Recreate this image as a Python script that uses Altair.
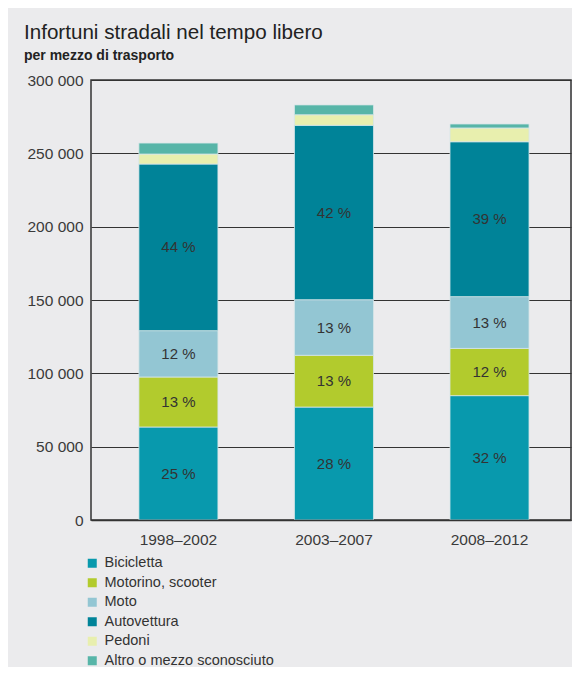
import altair as alt
import pandas as pd

periods = ["1998–2002", "2003–2007", "2008–2012"]
modes = ["Bicicletta", "Motorino, scooter", "Moto", "Autovettura", "Pedoni",
         "Altro o mezzo sconosciuto"]
colors = ["#0899AD", "#B2CB2D", "#93C6D3", "#008398", "#E8EFAE", "#57B5A8"]

bicicletta = [63400, 77000, 84800]
motorino = [34100, 35300, 32200]
moto = [31600, 37900, 35300]
autovettura = [113600, 118900, 105600]
pedoni = [6800, 7200, 9400]
altro = [7500, 6700, 2700]

lab_bicicletta = ["25 %", "28 %", "32 %"]
lab_motorino = ["13 %", "13 %", "12 %"]
lab_moto = ["12 %", "13 %", "13 %"]
lab_autovettura = ["44 %", "42 %", "39 %"]
lab_pedoni = ["", "", ""]
lab_altro = ["", "", ""]

y_ticks = [0, 50000, 100000, 150000, 200000, 250000, 300000]

series = [bicicletta, motorino, moto, autovettura, pedoni, altro]
labels = [lab_bicicletta, lab_motorino, lab_moto, lab_autovettura, lab_pedoni, lab_altro]

rows = []
for mi, (m, vals, labs) in enumerate(zip(modes, series, labels)):
    for pi, p in enumerate(periods):
        rows.append({"period": p, "mode": m, "idx": mi, "value": vals[pi], "label": labs[pi]})
df = pd.DataFrame(rows)

FONT = "Liberation Sans"

x_enc = alt.X(
    "period:N", sort=periods,
    scale=alt.Scale(paddingInner=0.492, paddingOuter=0.289, align=0.533),
    axis=alt.Axis(title=None, labelAngle=0, ticks=False, domain=True, domainColor="#333333",
                  domainWidth=1.5, zindex=1, labelPadding=12, labelFontSize=15.5,
                  labelColor="#3a3a3a", labelFont=FONT),
)

base = alt.Chart(df)

bars = base.mark_bar(stroke="#d6e6e8", strokeWidth=0.8).encode(
    x=x_enc,
    y=alt.Y(
        "value:Q", stack="zero",
        scale=alt.Scale(domain=[0, 300000], nice=False),
        axis=alt.Axis(title=None, values=y_ticks, ticks=False, domain=False,
                      labelPadding=8, labelFontSize=15.5, labelColor="#3a3a3a",
                      labelFont=FONT, gridColor="#333333", gridWidth=1.2,
                      labelExpr="replace(format(datum.value, ','), ',', ' ')"),
    ),
    color=alt.Color(
        "mode:N", sort=modes,
        scale=alt.Scale(domain=modes, range=colors),
        legend=alt.Legend(title=None, orient="none", legendX=-6, legendY=476,
                          symbolType="square", symbolSize=81, symbolStrokeWidth=0,
                          labelFontSize=14.5, labelFont=FONT, labelColor="#333333",
                          labelOffset=5, rowPadding=4.5, padding=0, labelLimit=0),
    ),
    order=alt.Order("idx:Q", sort="ascending"),
)

text = base.transform_stack(
    stack="value", as_=["y0", "y1"], groupby=["period"],
    sort=[alt.SortField("idx", order="ascending")],
).transform_calculate(
    mid="(datum.y0 + datum.y1) / 2"
).mark_text(fontSize=15, color="#333333", font=FONT).encode(
    x=alt.X("period:N", sort=periods),
    y=alt.Y("mid:Q"),
    text="label:N",
)

chart = alt.layer(bars, text).properties(
    width=480,
    height=440,
    autosize=alt.AutoSizeParams(type="none"),
    padding={"left": 83, "top": 72, "right": 1, "bottom": 147},
    background="#EBEBED",
    title=alt.TitleParams(
        text="Infortuni stradali nel tempo libero",
        subtitle="per mezzo di trasporto",
        anchor="start", frame="group", dx=-67, offset=10,
        font=FONT, fontSize=20.6, fontWeight="normal", color="#222222",
        subtitleFont=FONT, subtitleFontSize=14, subtitleFontWeight="bold",
        subtitleColor="#222222", subtitlePadding=5,
    ),
).configure_view(stroke="#333333", strokeWidth=1.5)

chart.save("out.html", embed_options={"renderer": "svg", "actions": False})
